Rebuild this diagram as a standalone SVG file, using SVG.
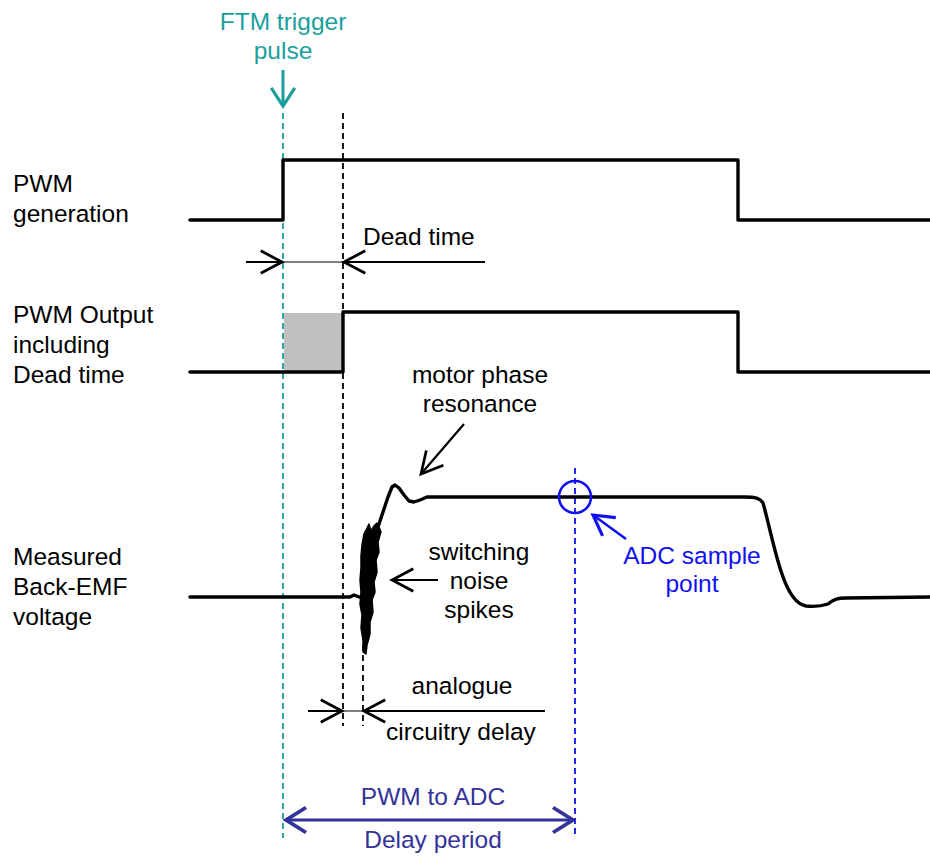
<svg xmlns="http://www.w3.org/2000/svg" width="930" height="856" viewBox="0 0 930 856">
<style>
text{font-family:"Liberation Sans",Arial,sans-serif;font-size:24.5px;fill:#000}
.c{text-anchor:middle}
.teal{fill:#1a9e9e}
.blue{fill:#1010f0}
.navy{fill:#333399}
.wave{fill:none;stroke:#000;stroke-width:3.4;stroke-linejoin:round;stroke-linecap:round}
.dash{fill:none;stroke-width:1.8;stroke-dasharray:6,4}
.arr{fill:none;stroke:#000;stroke-width:2.2}
</style>
<defs>
<marker id="ah" markerUnits="userSpaceOnUse" markerWidth="30" markerHeight="30" viewBox="-20 -12 24 24" refX="0" refY="0" orient="auto">
<path d="M-17,-9 L0,0 L-17,9" fill="none" stroke="#000" stroke-width="2.2"/>
</marker>
<marker id="ahb" markerUnits="userSpaceOnUse" markerWidth="30" markerHeight="30" viewBox="-20 -12 24 24" refX="0" refY="0" orient="auto">
<path d="M-16,-9 L0,0 L-16,9" fill="none" stroke="#1010f0" stroke-width="2.5"/>
</marker>
<marker id="ahn" markerUnits="userSpaceOnUse" markerWidth="30" markerHeight="30" viewBox="-20 -12 24 24" refX="0" refY="0" orient="auto-start-reverse">
<path d="M-16,-10 L0,0 L-16,10" fill="none" stroke="#333399" stroke-width="3"/>
</marker>
<marker id="aht" markerUnits="userSpaceOnUse" markerWidth="30" markerHeight="30" viewBox="-20 -14 24 28" refX="0" refY="0" orient="auto">
<path d="M-17,-11 L0,0 L-17,11" fill="none" stroke="#1a9e9e" stroke-width="3"/>
</marker>
</defs>

<g id="labels">
<text x="13" y="192">PWM</text>
<text x="13" y="222">generation</text>
<text x="13" y="323">PWM Output</text>
<text x="13" y="353">including</text>
<text x="13" y="383">Dead time</text>
<text x="13" y="565">Measured</text>
<text x="13" y="595">Back-EMF</text>
<text x="13" y="625">voltage</text>
</g>

<g id="ftm-trigger">
<text class="c teal" x="283" y="30">FTM trigger</text>
<text class="c teal" x="283" y="59">pulse</text>
<line x1="283" y1="70" x2="283" y2="106" stroke="#1a9e9e" stroke-width="3" marker-end="url(#aht)"/>
</g>

<g id="guides">
<line class="dash" x1="283" y1="113" x2="283" y2="838" stroke="#1a9e9e"/>
<line class="dash" x1="343" y1="113" x2="343" y2="726" stroke="#000"/>
<line class="dash" x1="363" y1="645" x2="363" y2="726" stroke="#000"/>
<line class="dash" x1="575" y1="468" x2="575" y2="838" stroke="#1010f0"/>
</g>

<g id="pwm-generation">
<path class="wave" d="M190,220 H283 V160 H738 V220 H930"/>
</g>

<g id="pwm-output">
<rect x="284" y="313" width="58" height="58" fill="#c0c0c0"/>
<path class="wave" d="M190,372 H343 V312 H738 V372 H930"/>
</g>

<g id="back-emf">
<path class="wave" d="M190,597 H340 L350,597 L354,595 L362,598"/>
<path d="M364,534 L367,528 L369,524 L371,531 L374,526 L377,523 L379,527 L381,532 L378,542 L379,552 L376,560 L377,572 L374,582 L375,592 L372,600 L373,612 L370,622 L370,634 L367,645 L366,654 L363,652 L363,640 L361,628 L362,615 L360,604 L361,592 L360,580 L361,568 L361,556 L362,545 Z" fill="#000" stroke="#000" stroke-width="1.5" stroke-linejoin="round"/>
<path class="wave" d="M377,530 L383,512 L388,497 L392,487 L395,485 L399,488 L404,495 L409,501 L414,502 L420,500 L427,497 L434,497 L745,497 C755,497 760,498 763,503 C768,520 775,555 782,574 C788,592 795,604 806,606 C816,607 822,606 828,604 C834,599 838,598 846,598 L930,597"/>
</g>

<g id="adc-sample">
<circle cx="575" cy="497" r="16" fill="none" stroke="#1010f0" stroke-width="2.6"/>
<line x1="626" y1="539" x2="593" y2="515" stroke="#1010f0" stroke-width="2.6" marker-end="url(#ahb)"/>
<text class="c blue" x="692" y="564">ADC sample</text>
<text class="c blue" x="692" y="592">point</text>
</g>

<g id="annotations">
<text x="363" y="245">Dead time</text>
<text class="c" x="480" y="383">motor phase</text>
<text class="c" x="480" y="412">resonance</text>
<text class="c" x="479" y="560">switching</text>
<text class="c" x="479" y="589">noise</text>
<text class="c" x="479" y="618">spikes</text>
<text class="c" x="462" y="694">analogue</text>
<text class="c" x="461" y="740">circuitry delay</text>
<text class="c navy" x="433" y="805">PWM to ADC</text>
<text class="c navy" x="433" y="848">Delay period</text>
</g>

<g id="connectors">
<line class="arr" x1="246" y1="262" x2="282" y2="262" marker-end="url(#ah)" stroke-width="2.8"/>
<line x1="283" y1="262" x2="343" y2="262" stroke="#000" stroke-width="1"/>
<line class="arr" x1="485" y1="262" x2="344" y2="262" marker-end="url(#ah)" stroke-width="2.8"/>
<line class="arr" x1="464" y1="424" x2="421" y2="474" marker-end="url(#ah)"/>
<line class="arr" x1="438" y1="580" x2="392" y2="580" marker-end="url(#ah)"/>
<line class="arr" x1="308" y1="711" x2="342" y2="711" marker-end="url(#ah)"/>
<line x1="343" y1="711" x2="363" y2="711" stroke="#000" stroke-width="1"/>
<line class="arr" x1="545" y1="711" x2="364" y2="711" marker-end="url(#ah)" stroke-width="2.8"/>
<line x1="286" y1="820" x2="573" y2="820" stroke="#333399" stroke-width="3.2" marker-start="url(#ahn)" marker-end="url(#ahn)"/>
</g>
</svg>
